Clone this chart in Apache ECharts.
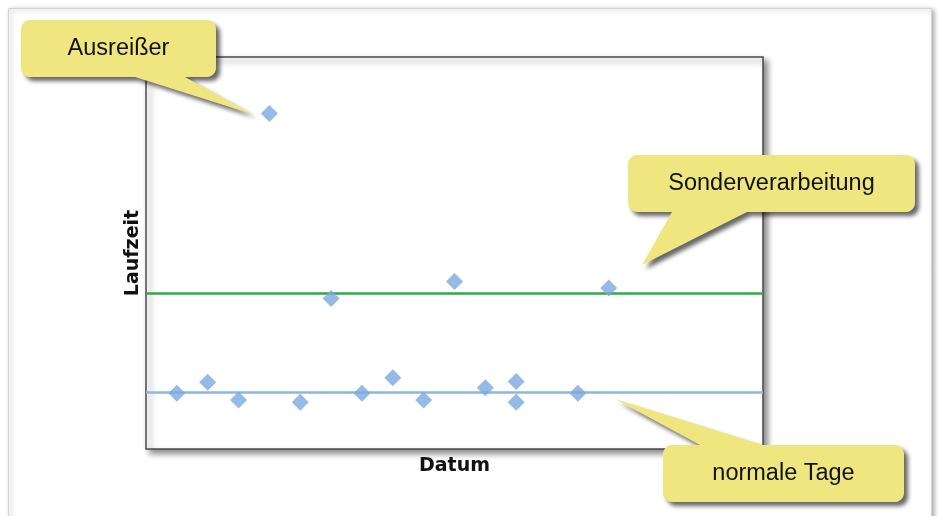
<!DOCTYPE html>
<html>
<head>
<meta charset="utf-8">
<script src="https://cdn.jsdelivr.net/npm/echarts@6/dist/echarts.min.js"></script>
<style>
  html, body { margin: 0; padding: 0; background: #ffffff; }
  #chart { width: 938px; height: 516px; }
</style>
</head>
<body>
<div id="chart"></div>
<script>
// Laufzeit je Datum (Tagesindex) – Streudiagramm
const dayIndex = [1, 2, 3, 4, 5, 6, 7, 8, 9, 10, 11, 12, 12, 14, 15];
const runtime  = [14.2, 17.0, 12.5, 85.6, 11.9, 38.4, 14.2, 18.2, 12.5, 42.7, 15.6, 17.2, 11.9, 14.2, 41.1];

// Referenzniveaus
const normalLevel = 14.6;   // normale Tage
const specialLevel = 39.7;  // Sonderverarbeitung

const xRange = [0, 20];
const yRange = [0, 100];

const callouts = [
  { text: 'Ausreißer',          box: [21, 20, 195, 57],  base: [135, 185], side: 'bottom', tip: [252, 114] },
  { text: 'Sonderverarbeitung', box: [628, 155, 287, 57], base: [672, 747], side: 'bottom', tip: [642, 265] },
  { text: 'normale Tage',       box: [663, 445, 241, 57], base: [700, 763], side: 'top',    tip: [615, 399] }
];

// quarter-circle corner points
function corner(cx, cy, r, a0) {
  const pts = [];
  for (let k = 0; k <= 6; k++) {
    const a = a0 + (k / 6) * Math.PI / 2;
    pts.push([cx + r * Math.cos(a), cy + r * Math.sin(a)]);
  }
  return pts;
}

// rounded box with its pointer as one polygon, so the shadow is cast once
function calloutPoints(c) {
  const [x, y, w, h] = c.box;
  const r = 9;
  let pts = [];
  pts = pts.concat(corner(x + r, y + r, r, Math.PI));            // top-left
  if (c.side === 'top') {
    pts.push([c.base[0], y], c.tip, [c.base[1], y]);
  }
  pts = pts.concat(corner(x + w - r, y + r, r, -Math.PI / 2));   // top-right
  pts = pts.concat(corner(x + w - r, y + h - r, r, 0));          // bottom-right
  if (c.side === 'bottom') {
    pts.push([c.base[1], y + h], c.tip, [c.base[0], y + h]);
  }
  pts = pts.concat(corner(x + r, y + h - r, r, Math.PI / 2));    // bottom-left
  return pts;
}

const graphics = [
  {
    type: 'rect',
    z: -5,
    shape: { x: 8.5, y: 8.5, width: 923, height: 540 },
    style: {
      fill: '#ffffff', stroke: '#d4d4d4', lineWidth: 1,
      shadowBlur: 5, shadowColor: 'rgba(0,0,0,0.35)', shadowOffsetX: 2, shadowOffsetY: 1
    }
  }
];
callouts.forEach(c => {
  graphics.push({
    type: 'polygon',
    z: 100,
    shape: { points: calloutPoints(c) },
    style: {
      fill: '#EFE67F',
      shadowBlur: 4, shadowColor: 'rgba(0,0,0,0.6)', shadowOffsetX: 4, shadowOffsetY: 4
    }
  });
  graphics.push({
    type: 'text',
    z: 101,
    x: c.box[0] + c.box[2] / 2,
    y: c.box[1] + c.box[3] / 2,
    style: {
      text: c.text,
      fontFamily: 'Liberation Sans, Arial, sans-serif',
      fontSize: 23.5,
      fill: '#111111',
      align: 'center',
      verticalAlign: 'middle'
    }
  });
});

const chart = echarts.init(document.getElementById('chart'));
chart.setOption({
  animation: false,
  backgroundColor: '#ffffff',
  grid: {
    show: true,
    left: 146, top: 57, right: 175, bottom: 67,
    backgroundColor: '#ffffff',
    borderColor: '#4a4a4a',
    borderWidth: 1.5,
    shadowColor: 'rgba(0,0,0,0.45)',
    shadowBlur: 6,
    shadowOffsetX: 4,
    shadowOffsetY: 4
  },
  xAxis: {
    type: 'value',
    min: xRange[0], max: xRange[1],
    name: 'Datum',
    nameLocation: 'middle',
    nameGap: 8,
    nameTextStyle: { fontFamily: 'DejaVu Sans', fontWeight: 'bold', fontSize: 19, color: '#111' },
    axisLine: { show: false }, axisTick: { show: false },
    axisLabel: { show: false }, splitLine: { show: false }
  },
  yAxis: {
    type: 'value',
    min: yRange[0], max: yRange[1],
    name: 'Laufzeit',
    nameLocation: 'middle',
    nameGap: 3,
    nameTextStyle: { fontFamily: 'DejaVu Sans', fontWeight: 'bold', fontSize: 19, color: '#111' },
    axisLine: { show: false }, axisTick: { show: false },
    axisLabel: { show: false }, splitLine: { show: false }
  },
  series: [
    {
      type: 'scatter',
      symbol: 'diamond',
      symbolSize: 17,
      itemStyle: { color: '#7BA9DE' },
      data: dayIndex.map((d, i) => [d, runtime[i]]),
      z: 5,
      markLine: {
        silent: true,
        symbol: 'none',
        label: { show: false },
        z: 3,
        data: [
          { yAxis: normalLevel, lineStyle: { color: '#8DB6E4', width: 2.5, type: 'solid' } },
          { yAxis: specialLevel, lineStyle: { color: '#2EAA48', width: 2.5, type: 'solid' } }
        ]
      }
    }
  ],
  graphic: graphics
});
</script>
</body>
</html>
